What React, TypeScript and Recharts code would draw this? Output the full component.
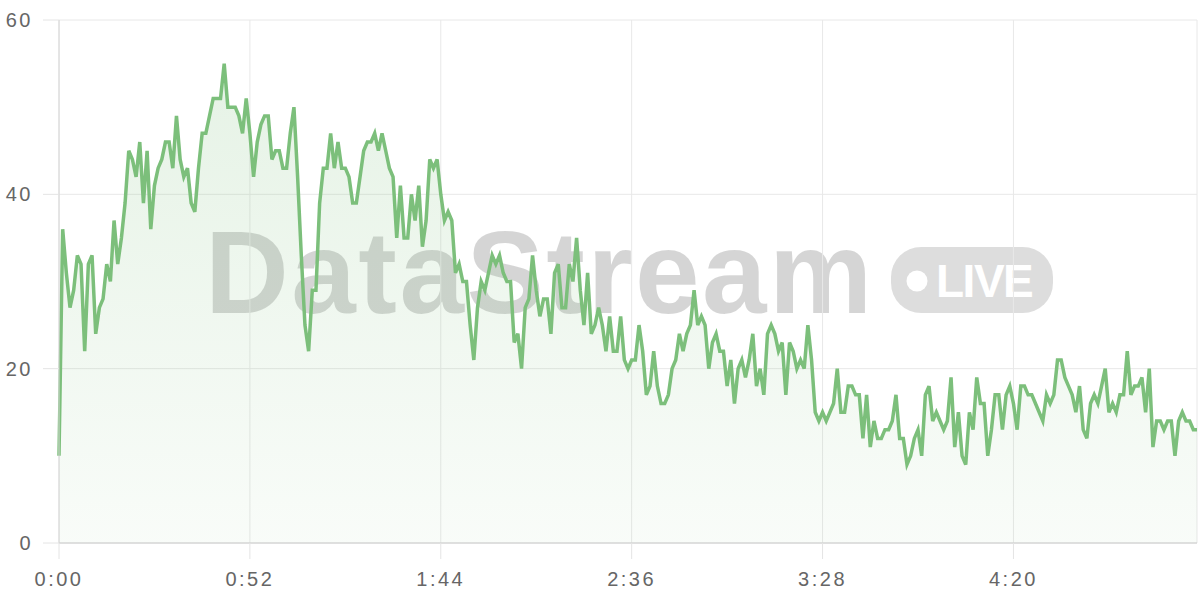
import React from 'react';
import { AreaChart, Area, XAxis, YAxis, CartesianGrid } from 'recharts';

// one sample per second, 0:00 .. 5:10
const values: number[] = [
  10, 36, 31, 27, 29, 33, 32, 22, 32, 33,
  24, 27, 28, 32, 30, 37, 32, 35, 39, 45,
  44, 42, 46, 39, 45, 36, 41, 43, 44, 46,
  46, 43, 49, 44, 42, 43, 39, 38, 43, 47,
  47, 49, 51, 51, 51, 55, 50, 50, 50, 49,
  47, 51, 47, 42, 46, 48, 49, 49, 44, 45,
  45, 43, 43, 47, 50, 42, 33, 25, 22, 29,
  29, 39, 43, 43, 47, 43, 46, 43, 43, 42,
  39, 39, 42, 45, 46, 46, 47, 45, 47, 45,
  43, 42, 35, 41, 35, 35, 40, 37, 41, 34,
  37, 44, 43, 44, 40, 37, 38, 37, 31, 32,
  30, 30, 25, 21, 27, 30, 29, 31, 33, 32,
  33, 31, 30, 30, 23, 24, 20, 27, 28, 33,
  29, 26, 28, 28, 24, 31, 32, 27, 27, 32,
  30, 35, 29, 25, 31, 24, 25, 27, 25, 22,
  26, 22, 22, 26, 21, 20, 21, 21, 25, 22,
  17, 18, 22, 18, 16, 16, 17, 20, 21, 24,
  22, 24, 25, 29, 25, 26, 25, 20, 23, 24,
  22, 22, 18, 21, 16, 20, 21, 19, 21, 24,
  18, 20, 17, 24, 25, 24, 22, 23, 17, 23,
  22, 20, 21, 20, 25, 21, 15, 14, 15, 14,
  15, 16, 20, 15, 15, 18, 18, 17, 17, 12,
  17, 11, 14, 12, 12, 13, 13, 14, 17, 12,
  12, 9, 10, 12, 13, 10, 17, 18, 14, 15,
  14, 13, 14, 19, 11, 15, 10, 9, 15, 13,
  19, 16, 16, 10, 13, 17, 17, 13, 17, 18,
  16, 13, 18, 18, 17, 17, 16, 15, 14, 17,
  16, 17, 21, 21, 19, 18, 17, 15, 18, 13,
  12, 16, 17, 16, 18, 20, 15, 16, 15, 17,
  17, 22, 17, 18, 18, 19, 15, 20, 11, 14,
  14, 13, 14, 14, 10, 14, 15, 14, 14, 13,
  13,
];

const xTicks: number[] = [0, 52, 104, 156, 208, 260];
const yTicks: number[] = [0, 20, 40, 60];

const data = values.map((v, i) => ({ t: i, v }));

const fmt = (s: number) => `${Math.floor(s / 60)}:${String(s % 60).padStart(2, '0')}`;

const tickStyle = {
  fill: '#666',
  fontSize: 20,
  fontFamily: '"Liberation Sans", Arial, sans-serif',
  letterSpacing: 2.5,
};

export default function App() {
  return (
    <div
      style={{
        position: 'fixed',
        left: 0,
        top: 0,
        width: 1200,
        height: 600,
        background: '#fff',
        overflow: 'hidden',
      }}
    >
      <svg
        width={1200}
        height={600}
        style={{ position: 'absolute', left: 0, top: 0 }}
      >
        <text
          x={205}
          y={313}
          fontSize={116}
          fontWeight={700}
          fontFamily='"Liberation Sans", Arial, sans-serif'
          fill="rgba(0,0,0,0.165)"
          letterSpacing={2.5}
        >
          DataStream
        </text>
        <rect x={891} y={247} width={162} height={66} rx={30} fill="rgba(0,0,0,0.135)" />
        <circle cx={917} cy={281} r={10.5} fill="#fff" />
        <text
          x={936}
          y={297}
          fontSize={46}
          fontWeight={700}
          fontFamily='"Liberation Sans", Arial, sans-serif'
          fill="#fff"
          letterSpacing={-1.5}
        >
          LIVE
        </text>
      </svg>
      <div style={{ position: 'absolute', left: 0, top: 0 }}>
        <AreaChart
          width={1200}
          height={600}
          data={data}
          margin={{ top: 20, right: 3, bottom: 0, left: 0 }}
        >
          <defs>
            <linearGradient id="greenFill" x1="0" y1="0" x2="0" y2="1">
              <stop offset="0%" stopColor="#7cbf7b" stopOpacity={0.32} />
              <stop offset="100%" stopColor="#7cbf7b" stopOpacity={0.08} />
            </linearGradient>
          </defs>
          <CartesianGrid stroke="#e8e8e8" strokeWidth={1} />
          <XAxis
            dataKey="t"
            type="number"
            domain={[0, 310]}
            ticks={xTicks}
            tickFormatter={fmt}
            height={57}
            tickSize={16}
            tickMargin={13}
            tickLine={{ stroke: '#e4e4e4' }}
            axisLine={{ stroke: '#cccccc' }}
            tick={tickStyle}
            interval={0}
          />
          <YAxis
            type="number"
            domain={[0, 60]}
            ticks={yTicks}
            width={59}
            tickSize={16}
            tickMargin={10}
            tickLine={{ stroke: '#e4e4e4' }}
            axisLine={{ stroke: '#d6d6d6' }}
            tick={tickStyle}
            interval={0}
          />
          <Area
            type="linear"
            dataKey="v"
            stroke="#7cbf7b"
            strokeWidth={3.5}
            fill="url(#greenFill)"
            dot={false}
            activeDot={false}
            isAnimationActive={false}
          />
        </AreaChart>
      </div>
    </div>
  );
}
